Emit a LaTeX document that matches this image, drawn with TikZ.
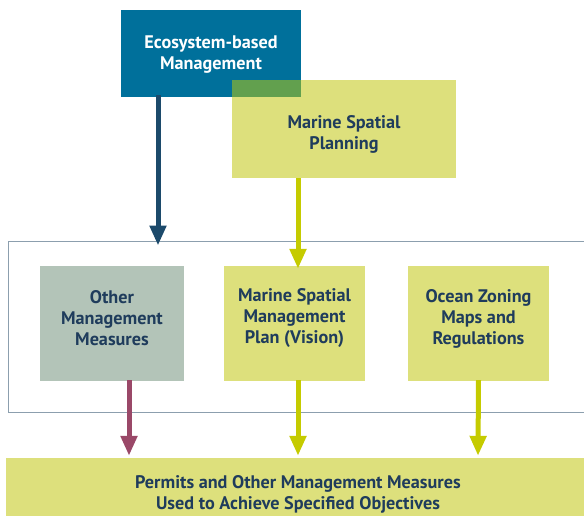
\documentclass[tikz,border=0pt]{standalone}
\usepackage{fontspec}
\setmainfont{PT Sans}
\usetikzlibrary{arrows.meta}
\definecolor{ebmblue}{HTML}{00709B}
\definecolor{navyarrow}{HTML}{1C4A6B}
\definecolor{yg}{HTML}{DDE07C}
\definecolor{ygarrow}{HTML}{C5CB00}
\definecolor{graybox}{HTML}{B3C4B8}
\definecolor{maroon}{HTML}{9A4868}
\definecolor{framecol}{HTML}{8C9FAE}
\definecolor{textnavy}{HTML}{1F3C5C}
\definecolor{overlapgreen}{HTML}{62A04E}
\tikzset{
  box/.style={rectangle, inner sep=0pt},
  txt/.style={align=center, inner sep=0pt, font=\bfseries\fontsize{18.2}{21}\selectfont, text=textnavy},
  conn/.style={line width=5pt, -{Triangle[width=16pt,length=20pt]}},
}
\begin{document}
\begin{tikzpicture}[x=1pt,y=-1pt]
\useasboundingbox (0,0) rectangle (584,516);
\clip (0,0) rectangle (584,516);
% frame
\node[draw=framecol, line width=1pt, minimum width=592pt, minimum height=171pt, inner sep=0pt] (frame) at (304,326.5) {};
% top boxes
\node[box, fill=ebmblue, minimum width=180pt, minimum height=87pt,
  label={[txt, text=white, yshift=-1.5pt]center:Ecosystem-based\\Management}] (ebm) at (211,53.5) {};
\node[box, fill=yg, minimum width=224pt, minimum height=98pt,
  label={[txt, yshift=-5.5pt]center:Marine Spatial\\Planning}] (msp) at (344,129) {};
\fill[overlapgreen] (232,80) rectangle (301,97);
% middle boxes
\node[box, fill=graybox, minimum width=144pt, minimum height=115pt,
  label={[txt, yshift=5pt]center:Other\\Management\\Measures}] (other) at (112,323.5) {};
\node[box, fill=yg, minimum width=141pt, minimum height=115pt,
  label={[txt, yshift=5pt]center:Marine Spatial\\Management\\Plan (Vision)}] (msmp) at (294.5,323.5) {};
\node[box, fill=yg, minimum width=141pt, minimum height=115pt,
  label={[txt, yshift=5pt]center:Ocean Zoning\\Maps and\\Regulations}] (oz) at (478.5,323.5) {};
% bottom box
\node[box, fill=yg, minimum width=584pt, minimum height=72pt,
  label={[txt]center:Permits and Other Management Measures\\Used to Achieve Specified Objectives}] (bottom) at (298,494) {};
% connectors
\draw[conn, draw=navyarrow] ([xshift=-53pt,yshift=2pt]ebm.south) -- ([xshift=-146pt,yshift=-5pt]frame.north);
\draw[conn, draw=ygarrow] ([xshift=-46pt]msp.south) -- ([xshift=3.5pt,yshift=-3pt]msmp.north);
\draw[conn, draw=maroon] ([xshift=17pt,yshift=1pt]other.south) -- ([xshift=-169pt,yshift=2pt]bottom.north);
\draw[conn, draw=ygarrow] ([xshift=3.5pt,yshift=1pt]msmp.south) -- ([yshift=2pt]bottom.north);
\draw[conn, draw=ygarrow] ([yshift=1pt]oz.south) -- ([xshift=180pt,yshift=2pt]bottom.north);
\end{tikzpicture}
\end{document}
